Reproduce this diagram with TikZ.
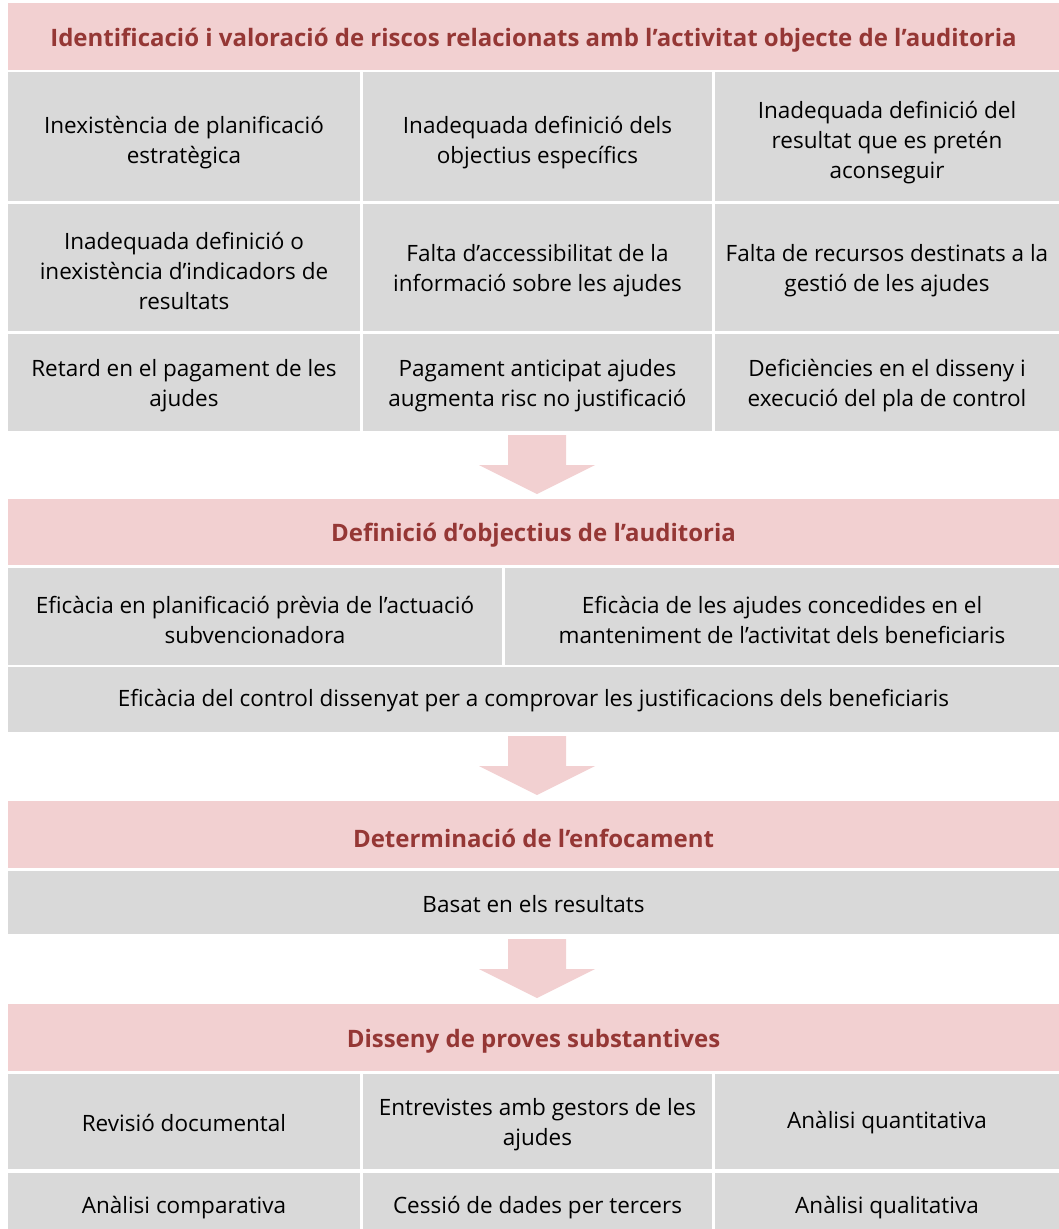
\documentclass[tikz,border=0pt]{standalone}
\usepackage{fontspec}
\setmainfont{Open Sans}
\usetikzlibrary{calc}
\definecolor{cellgray}{RGB}{217,217,217}
\definecolor{headpink}{RGB}{242,208,209}
\definecolor{headred}{RGB}{149,55,53}

% box: name, x1, y1, x2, y2, box style, text style, text
\newcommand{\bx}[8]{%
  \node[#6,minimum width={#4pt-#2pt},minimum height={#5pt-#3pt}] (#1) at ({(#2+#4)/2},{(#3+#5)/2}) {};
  \node[#7] (#1-t) at (#1.center) {#8};}
% block arrow from top coordinate to tip coordinate
\newcommand{\blockarrow}[2]{\fill[headpink] (#1) ++(-29,0) -- ++(58,0) |- ($(#2)+(58,-29)$) -- (#2) -- ($(#2)+(-58,-29)$) -| cycle;}

\begin{document}
\begin{tikzpicture}[x=1pt,y=-1pt]
  \tikzstyle{gbox}=[fill=cellgray,inner sep=0pt]
  \tikzstyle{hbox}=[fill=headpink,inner sep=0pt]
  \tikzstyle{gtxt}=[inner sep=0pt,align=center,font=\fontsize{22.5}{30}\selectfont,yshift=-1.5pt]
  \tikzstyle{mtxt}=[gtxt,yshift=-2pt]
  \tikzstyle{ttxt}=[gtxt,yshift=-5pt]
  \tikzstyle{htxt}=[inner sep=0pt,align=center,text=headred,font=\fontsize{24}{29}\selectfont\bfseries,yshift=-3.5pt]
  \useasboundingbox (0,0) rectangle (1059,1229);

  % riscos
  \bx{h1}{8}{3}{1059}{70}{hbox}{htxt}{Identificació i valoració de riscos relacionats amb l’activitat objecte de l’auditoria}
  \bx{r1a}{8}{72}{360}{201}{gbox}{ttxt}{Inexistència de planificació\\estratègica}
  \bx{r1b}{363}{72}{712}{201}{gbox}{ttxt}{Inadequada definició dels\\objectius específics}
  \bx{r1c}{715}{72}{1059}{201}{gbox}{ttxt}{Inadequada definició del\\resultat que es pretén\\aconseguir}
  \bx{r2a}{8}{204}{360}{331}{gbox}{mtxt}{Inadequada definició o\\inexistència d’indicadors de\\resultats}
  \bx{r2b}{363}{204}{712}{331}{gbox}{mtxt}{Falta d’accessibilitat de la\\informació sobre les ajudes}
  \bx{r2c}{715}{204}{1059}{331}{gbox}{mtxt}{Falta de recursos destinats a la\\gestió de les ajudes}
  \bx{r3a}{8}{334}{360}{431}{gbox}{mtxt}{Retard en el pagament de les\\ajudes}
  \bx{r3b}{363}{334}{712}{431}{gbox}{mtxt}{Pagament anticipat ajudes\\augmenta risc no justificació}
  \bx{r3c}{715}{334}{1059}{431}{gbox}{mtxt}{Deficiències en el disseny i\\execució del pla de control}

  % objectius
  \bx{h2}{8}{499}{1059}{565}{hbox}{htxt}{Definició d’objectius de l’auditoria}
  \bx{o1a}{8}{568}{502}{665}{gbox}{mtxt}{Eficàcia en planificació prèvia de l’actuació\\subvencionadora}
  \bx{o1b}{505}{568}{1059}{665}{gbox}{mtxt}{Eficàcia de les ajudes concedides en el\\manteniment de l’activitat dels beneficiaris}
  \bx{o2}{8}{667}{1059}{732}{gbox}{gtxt}{Eficàcia del control dissenyat per a comprovar les justificacions dels beneficiaris}

  % enfocament
  \bx{h3}{8}{801}{1059}{868}{hbox}{htxt}{Determinació de l’enfocament}
  \bx{e1}{8}{871}{1059}{934}{gbox}{gtxt}{Basat en els resultats}

  % proves
  \bx{h4}{8}{1004}{1059}{1071}{hbox}{htxt}{Disseny de proves substantives}
  \bx{p1a}{8}{1074}{360}{1169}{gbox}{gtxt}{Revisió documental}
  \bx{p1b}{363}{1074}{712}{1169}{gbox}{mtxt}{Entrevistes amb gestors de les\\ajudes}
  \bx{p1c}{715}{1074}{1059}{1169}{gbox}{gtxt}{Anàlisi quantitativa}
  \bx{p2a}{8}{1173}{360}{1240}{gbox}{gtxt}{Anàlisi comparativa}
  \bx{p2b}{363}{1173}{712}{1240}{gbox}{gtxt}{Cessió de dades per tercers}
  \bx{p2c}{715}{1173}{1059}{1240}{gbox}{gtxt}{Anàlisi qualitativa}

  % fletxes
  \coordinate (a1s) at (537,435);
  \coordinate (a1t) at (537,494);
  \coordinate (a2s) at (537,736);
  \coordinate (a2t) at (537,795);
  \coordinate (a3s) at (537,939);
  \coordinate (a3t) at (537,998);
  \blockarrow{a1s}{a1t}
  \blockarrow{a2s}{a2t}
  \blockarrow{a3s}{a3t}
\end{tikzpicture}
\end{document}
